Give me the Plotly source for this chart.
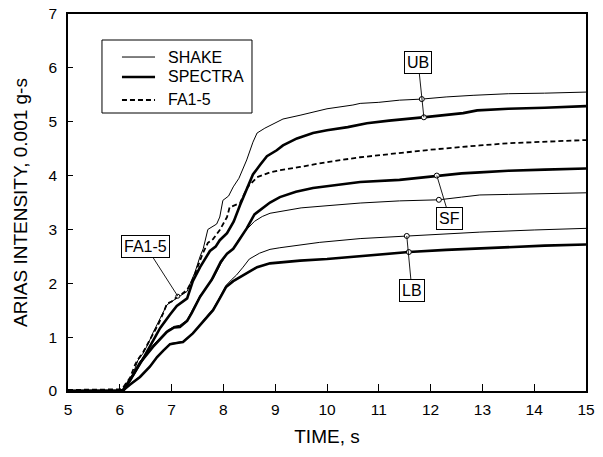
import numpy as np
import plotly.graph_objects as go

# Arias intensity build-up (0.001 g-s) vs time (s)
# Upper bound (UB), site-specific (SF) and lower bound (LB) profiles
ub_shake_t = [5, 6.0, 6.06, 6.2, 6.26, 6.35, 6.45, 6.55, 6.64, 6.75, 6.84, 6.91, 7.0, 7.12, 7.2, 7.3,
              7.36, 7.45, 7.55, 7.61, 7.7, 7.8, 7.87, 7.93, 7.99, 8.1, 8.19, 8.3, 8.45, 8.57, 8.65, 8.8,
              8.9, 9.15, 9.48, 9.73, 10.0, 10.5, 10.64, 11.0, 11.4, 11.83, 12.3, 12.82, 13.5, 14.2, 15]
ub_shake_v = [0, 0, 0.03, 0.2, 0.33, 0.57, 0.7, 0.88, 1.08, 1.3, 1.45, 1.6, 1.66, 1.74, 1.78, 1.85,
              2.0, 2.2, 2.5, 2.64, 3.0, 3.05, 3.1, 3.23, 3.54, 3.62, 3.79, 3.95, 4.29, 4.62, 4.79, 4.88,
              4.93, 5.05, 5.12, 5.18, 5.24, 5.31, 5.34, 5.36, 5.4, 5.42, 5.46, 5.49, 5.52, 5.53, 5.55]

ub_spectra_t = [5, 6.0, 6.06, 6.26, 6.45, 6.64, 6.78, 6.97, 7.1, 7.3, 7.41, 7.55, 7.65, 7.74, 7.85,
                7.93, 8.07, 8.2, 8.32, 8.45, 8.57, 8.71, 8.84, 9.03, 9.15, 9.42, 9.73, 10.0, 10.4,
                10.77, 11.2, 11.85, 12.3, 12.63, 12.9, 13.5, 14.2, 15]
ub_spectra_v = [0, 0, 0.02, 0.3, 0.6, 0.92, 1.17, 1.42, 1.58, 1.72, 2.04, 2.3, 2.45, 2.6, 2.68,
                2.8, 2.93, 3.15, 3.45, 3.73, 4.02, 4.2, 4.36, 4.47, 4.56, 4.69, 4.79, 4.84, 4.9,
                4.97, 5.02, 5.08, 5.12, 5.16, 5.21, 5.24, 5.26, 5.29]

fa15_t = [5, 5.5, 6.0, 6.06, 6.2, 6.3, 6.36, 6.45, 6.55, 6.64, 6.75, 6.84, 6.91, 7.0, 7.12, 7.2,
          7.3, 7.4, 7.5, 7.6, 7.7, 7.8, 7.93, 8.07, 8.12, 8.32, 8.47, 8.65, 8.9, 9.1, 9.48, 10.0,
          10.64, 11.0, 11.5, 12.0, 12.95, 13.5, 14.0, 15]
fa15_v = [0.02, 0.02, 0.03, 0.06, 0.25, 0.5, 0.6, 0.72, 0.9, 1.08, 1.25, 1.45, 1.62, 1.66, 1.76, 1.8,
          1.88, 2.05, 2.3, 2.55, 2.75, 2.82, 2.99, 3.23, 3.41, 3.49, 3.79, 3.97, 4.06, 4.1, 4.16, 4.25,
          4.34, 4.38, 4.43, 4.48, 4.56, 4.6, 4.62, 4.66]

sf_spectra_t = [5, 6.0, 6.08, 6.2, 6.39, 6.64, 6.91, 7.05, 7.16, 7.3, 7.39, 7.55, 7.77, 7.95, 8.07,
                8.19, 8.3, 8.45, 8.6, 8.9, 9.09, 9.4, 9.73, 10.2, 10.64, 11.4, 12.12, 12.6, 12.95,
                13.5, 14.2, 15]
sf_spectra_v = [0, 0, 0.02, 0.2, 0.52, 0.82, 1.1, 1.18, 1.19, 1.3, 1.45, 1.75, 2.06, 2.4, 2.55,
                2.64, 2.8, 3.02, 3.28, 3.5, 3.6, 3.7, 3.77, 3.83, 3.88, 3.92, 4.0, 4.04, 4.06,
                4.09, 4.11, 4.13]

sf_shake_t = [5, 6.0, 6.08, 6.2, 6.39, 6.64, 6.91, 7.05, 7.16, 7.3, 7.39, 7.55, 7.8, 7.95, 8.07,
              8.19, 8.3, 8.45, 8.6, 8.75, 8.9, 9.09, 9.5, 10.0, 10.39, 10.64, 11.4, 12.16, 12.6,
              12.95, 13.5, 14.2, 15]
sf_shake_v = [0, 0, 0.02, 0.22, 0.55, 0.85, 1.12, 1.2, 1.22, 1.32, 1.48, 1.77, 2.08, 2.36, 2.55,
              2.64, 2.82, 3.0, 3.15, 3.24, 3.3, 3.33, 3.4, 3.44, 3.47, 3.49, 3.53, 3.55, 3.6,
              3.64, 3.65, 3.66, 3.68]

lb_spectra_t = [5, 6.0, 6.06, 6.2, 6.39, 6.58, 6.72, 6.84, 6.97, 7.1, 7.22, 7.41, 7.55, 7.68, 7.8,
                7.93, 8.05, 8.19, 8.3, 8.45, 8.65, 8.9, 9.09, 9.48, 10.0, 10.64, 11.0, 11.58, 12.3,
                12.95, 13.5, 14.2, 15]
lb_spectra_v = [0, 0, 0.01, 0.12, 0.26, 0.45, 0.63, 0.75, 0.87, 0.89, 0.91, 1.07, 1.22, 1.38, 1.5,
                1.72, 1.93, 2.04, 2.1, 2.19, 2.3, 2.37, 2.39, 2.42, 2.45, 2.5, 2.53, 2.58, 2.62,
                2.65, 2.68, 2.7, 2.72]

lb_shake_t = [5, 6.0, 6.06, 6.2, 6.39, 6.58, 6.72, 6.84, 6.97, 7.1, 7.22, 7.41, 7.55, 7.68, 7.8,
              7.93, 8.05, 8.15, 8.25, 8.38, 8.5, 8.7, 8.9, 9.09, 9.48, 9.86, 10.64, 11.56, 12.3,
              12.95, 14.0, 15]
lb_shake_v = [0, 0, 0.01, 0.13, 0.27, 0.46, 0.64, 0.76, 0.88, 0.9, 0.92, 1.08, 1.23, 1.39, 1.52,
              1.74, 1.96, 2.06, 2.15, 2.3, 2.45, 2.56, 2.63, 2.66, 2.71, 2.76, 2.83, 2.88, 2.92,
              2.95, 2.99, 3.02]

x_ticks = [5, 6, 7, 8, 9, 10, 11, 12, 13, 14, 15]
y_ticks = [0, 1, 2, 3, 4, 5, 6, 7]
legend_names = ["SHAKE", "SPECTRA", "FA1-5"]

FONT = "Liberation Sans, Arial, Helvetica, sans-serif"
THIN = dict(color="black", width=1)
THICK = dict(color="black", width=2.6)
DASH = dict(color="black", width=1.8, dash="5px,3px")
STYLE = {"SHAKE": THIN, "SPECTRA": THICK, "FA1-5": DASH}

fig = go.Figure()

series = [
    (ub_shake_t, ub_shake_v, "SHAKE"),
    (sf_shake_t, sf_shake_v, "SHAKE"),
    (lb_shake_t, lb_shake_v, "SHAKE"),
    (ub_spectra_t, ub_spectra_v, "SPECTRA"),
    (sf_spectra_t, sf_spectra_v, "SPECTRA"),
    (lb_spectra_t, lb_spectra_v, "SPECTRA"),
    (fa15_t, fa15_v, "FA1-5"),
]
for t, v, name in series:
    fig.add_trace(go.Scatter(x=t, y=v, mode="lines", line=STYLE[name], name=name,
                             showlegend=False, hoverinfo="skip"))

# Labelled call-outs: (label, box position, [(curve t, curve v, time on curve), ...])
callouts = [
    ("UB", (11.76, 6.1), [(ub_shake_t, ub_shake_v, 11.83), (ub_spectra_t, ub_spectra_v, 11.87)]),
    ("SF", (12.37, 3.2), [(sf_shake_t, sf_shake_v, 12.16), (sf_spectra_t, sf_spectra_v, 12.12)]),
    ("LB", (11.64, 1.86), [(lb_shake_t, lb_shake_v, 11.54), (lb_spectra_t, lb_spectra_v, 11.58)]),
    ("FA1-5", (6.5, 2.69), [(fa15_t, fa15_v, 7.12)]),
]
for label, (bx, by), pts in callouts:
    px = [p[2] for p in pts]
    py = [float(np.interp(p[2], p[0], p[1])) for p in pts]
    far = int(np.argmax([abs(y - by) for y in py]))
    fig.add_annotation(x=px[far], y=py[far], ax=bx, ay=by, axref="x", ayref="y",
                       xref="x", yref="y", text=label, showarrow=True, arrowhead=0,
                       arrowwidth=0.9, arrowcolor="black", bordercolor="black",
                       borderwidth=1, borderpad=2, bgcolor="white",
                       font=dict(family=FONT, size=16, color="black"))
    fig.add_trace(go.Scatter(x=px, y=py, mode="markers", showlegend=False, hoverinfo="skip",
                             marker=dict(symbol="circle", size=5 if label != "FA1-5" else 4,
                                         color="white", line=dict(color="black", width=1))))

# Key box (paper coordinates)
fig.add_shape(type="rect", xref="paper", yref="paper", x0=0.0656, x1=0.3552, y0=0.7374, y1=0.9310,
              line=dict(color="black", width=1), fillcolor="white", layer="above")
for row_y, name in zip([0.8859, 0.8329, 0.7719], legend_names):
    fig.add_shape(type="line", xref="paper", yref="paper", x0=0.1042, x1=0.1680, y0=row_y, y1=row_y,
                  line=STYLE[name], layer="above")
    fig.add_annotation(x=0.1892, y=row_y, xref="paper", yref="paper", text=name, showarrow=False,
                       xanchor="left", yanchor="middle",
                       font=dict(family=FONT, size=16, color="black"))

fig.update_layout(
    width=603, height=457,
    margin=dict(l=68, r=17, t=14, b=66),
    paper_bgcolor="white", plot_bgcolor="white",
    font=dict(family=FONT, size=15, color="black"),
    showlegend=False,
)
fig.update_xaxes(range=[5, 15], tickvals=x_ticks, ticks="inside", ticklen=7, tickwidth=1,
                 tickcolor="black", showline=True, linecolor="black", linewidth=1.5,
                 mirror=True, showgrid=False, zeroline=False, automargin=False,
                 tickfont=dict(size=15.5), ticklabelstandoff=4,
                 title=dict(text="TIME, s", font=dict(size=19), standoff=12))
fig.update_yaxes(range=[0, 7], tickvals=y_ticks, ticks="inside", ticklen=5, tickwidth=1,
                 tickcolor="black", showline=True, linecolor="black", linewidth=1.5,
                 mirror=True, showgrid=False, zeroline=False, automargin=False,
                 tickfont=dict(size=15.5), ticklabelstandoff=6,
                 title=dict(text="ARIAS INTENSITY, 0.001 g-s", font=dict(size=19), standoff=16))

fig.write_html("out.html")
